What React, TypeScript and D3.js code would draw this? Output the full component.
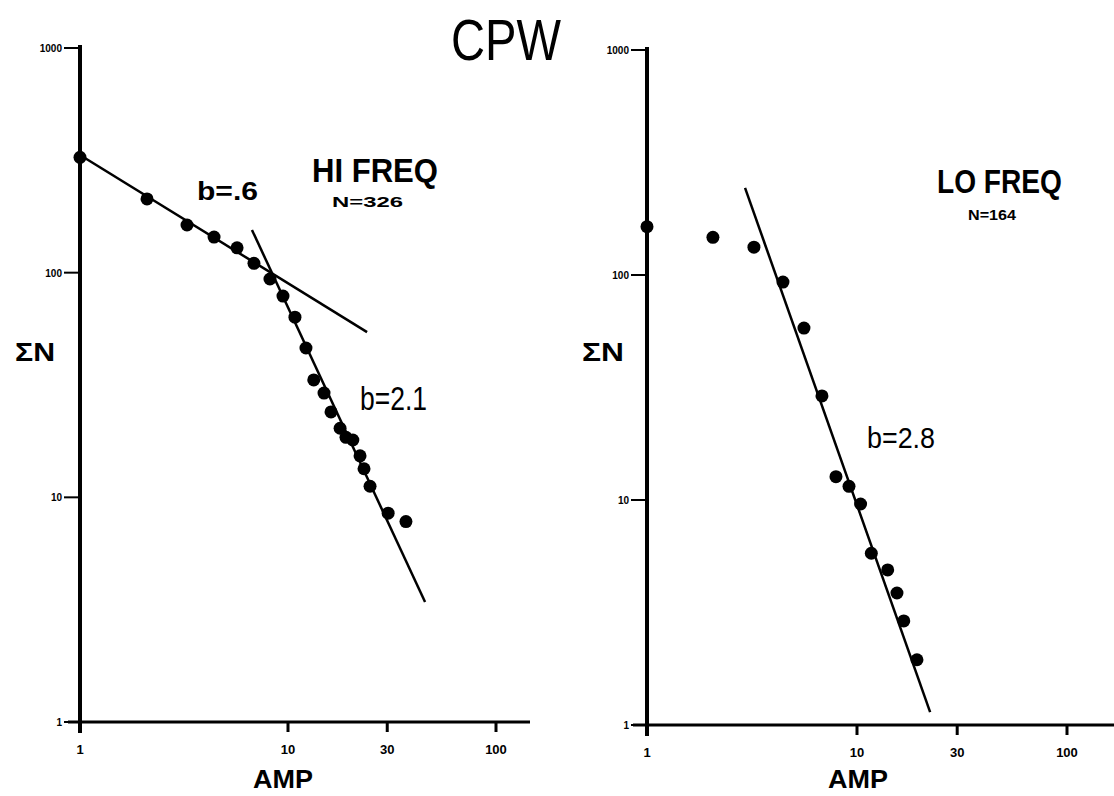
import React from "react";
import * as d3 from "d3";

// ---- Data ----
const yTickValues = [1, 10, 100, 1000];
const yTickLabels = ["1", "10", "100", "1000"];
const xTickValues = [1, 10, 30, 100];
const xTickLabels = ["1", "10", "30", "100"];

// HI FREQ panel
const hiAmp = [1, 2.1, 3.27, 4.41, 5.69, 6.86, 8.19, 9.46, 10.8, 12.2, 13.3, 14.9, 16.1, 17.8, 19.0, 20.5, 22.2, 23.2, 24.8, 30.3, 36.9];
const hiN = [326, 213, 163, 144, 129, 110, 93.7, 78.7, 63.4, 46.2, 33.3, 29.1, 24.0, 20.3, 18.5, 18.0, 15.3, 13.4, 11.2, 8.5, 7.8];
const hiFit1Amp = [1, 24.0];
const hiFit1N = [334, 54.4];
const hiFit2Amp = [6.71, 45.6];
const hiFit2N = [155, 3.42];

// LO FREQ panel
const loAmp = [1, 2.06, 3.23, 4.44, 5.59, 6.81, 7.94, 9.16, 10.4, 11.7, 14.0, 15.5, 16.7, 19.3];
const loN = [164, 147, 133, 93, 58.1, 29.0, 12.7, 11.5, 9.6, 5.8, 4.89, 3.86, 2.9, 1.95];
const loFitAmp = [2.93, 22.3];
const loFitN = [244, 1.14];

const FONT = "'Liberation Sans', Arial, Helvetica, sans-serif";

type PanelProps = {
  x0: number; x1: number; y0: number; y1: number;
  axisLeft: number; axisRight: number;
  amp: number[]; n: number[];
  fits: { amp: number[]; n: number[] }[];
};

function Panel({ x0, x1, y0, y1, axisLeft, axisRight, amp, n, fits }: PanelProps) {
  const x = d3.scaleLog().domain([1, 100]).range([x0, x1]);
  const y = d3.scaleLog().domain([1, 1000]).range([y0, y1]);
  const line = d3.line<[number, number]>().x(d => x(d[0])).y(d => y(d[1]));
  return (
    <g>
      {/* y axis */}
      <line x1={x0} x2={x0} y1={y1 - 3} y2={y0 + 11} stroke="#000" strokeWidth={4} />
      {/* x axis */}
      <line x1={axisLeft} x2={axisRight} y1={y0} y2={y0} stroke="#000" strokeWidth={3} />
      {yTickValues.map((v, i) => (
        <g key={"yt" + i}>
          <line x1={x0 - 16} x2={x0} y1={y(v)} y2={y(v)} stroke="#000" strokeWidth={2} />
          <text x={x0 - 18} y={y(v) + 4} fontSize={10} fontWeight="bold" textAnchor="end" fontFamily={FONT}>
            {yTickLabels[i]}
          </text>
        </g>
      ))}
      {xTickValues.map((v, i) => (
        <g key={"xt" + i}>
          <line x1={x(v)} x2={x(v)} y1={y0} y2={y0 + 10} stroke="#000" strokeWidth={3} />
          <text x={x(v)} y={y0 + 32} fontSize={13} fontWeight="bold" textAnchor="middle" fontFamily={FONT}>
            {xTickLabels[i]}
          </text>
        </g>
      ))}
      {fits.map((f, i) => (
        <path key={"f" + i} d={line(f.amp.map((a, j) => [a, f.n[j]] as [number, number])) || ""}
          fill="none" stroke="#000" strokeWidth={2.5} />
      ))}
      {amp.map((a, i) => (
        <circle key={"p" + i} cx={x(a)} cy={y(n[i])} r={6.5} fill="#000" />
      ))}
    </g>
  );
}

export default function App() {
  return (
    <div style={{ position: "absolute", left: 0, top: 0 }}>
      <svg width={1114} height={796} style={{ display: "block", background: "#fff" }}>
        <rect width={1114} height={796} fill="#fff" />
        <Panel x0={80} x1={496} y0={722} y1={48} axisLeft={68} axisRight={530}
          amp={hiAmp} n={hiN}
          fits={[{ amp: hiFit1Amp, n: hiFit1N }, { amp: hiFit2Amp, n: hiFit2N }]} />
        <Panel x0={647} x1={1067} y0={725} y1={50} axisLeft={633} axisRight={1114}
          amp={loAmp} n={loN}
          fits={[{ amp: loFitAmp, n: loFitN }]} />

        <text x={451} y={60} fontSize={58} fontFamily={FONT} textLength={110} lengthAdjust="spacingAndGlyphs">CPW</text>

        <text x={15} y={361} fontSize={26} fontWeight="bold" fontFamily={FONT} textLength={40} lengthAdjust="spacingAndGlyphs">ΣN</text>
        <text x={582} y={361} fontSize={26} fontWeight="bold" fontFamily={FONT} textLength={42} lengthAdjust="spacingAndGlyphs">ΣN</text>

        <text x={253} y={788} fontSize={26} fontWeight="bold" fontFamily={FONT} textLength={60} lengthAdjust="spacingAndGlyphs">AMP</text>
        <text x={828} y={788} fontSize={26} fontWeight="bold" fontFamily={FONT} textLength={60} lengthAdjust="spacingAndGlyphs">AMP</text>

        <text x={197} y={200} fontSize={25} fontWeight="bold" fontFamily={FONT} textLength={61} lengthAdjust="spacingAndGlyphs">b=.6</text>
        <text x={312} y={182} fontSize={34} fontWeight="bold" fontFamily={FONT} textLength={126} lengthAdjust="spacingAndGlyphs">HI FREQ</text>
        <text x={332} y={207} fontSize={15} fontWeight="bold" fontFamily={FONT} textLength={71} lengthAdjust="spacingAndGlyphs">N=326</text>
        <text x={360} y={410} fontSize={34} fontFamily={FONT} textLength={67} lengthAdjust="spacingAndGlyphs">b=2.1</text>

        <text x={937} y={193} fontSize={34} fontWeight="bold" fontFamily={FONT} textLength={125} lengthAdjust="spacingAndGlyphs">LO FREQ</text>
        <text x={968} y={220} fontSize={14} fontWeight="bold" fontFamily={FONT} textLength={48} lengthAdjust="spacingAndGlyphs">N=164</text>
        <text x={867} y={448} fontSize={29} fontFamily={FONT} textLength={68} lengthAdjust="spacingAndGlyphs">b=2.8</text>
      </svg>
    </div>
  );
}
